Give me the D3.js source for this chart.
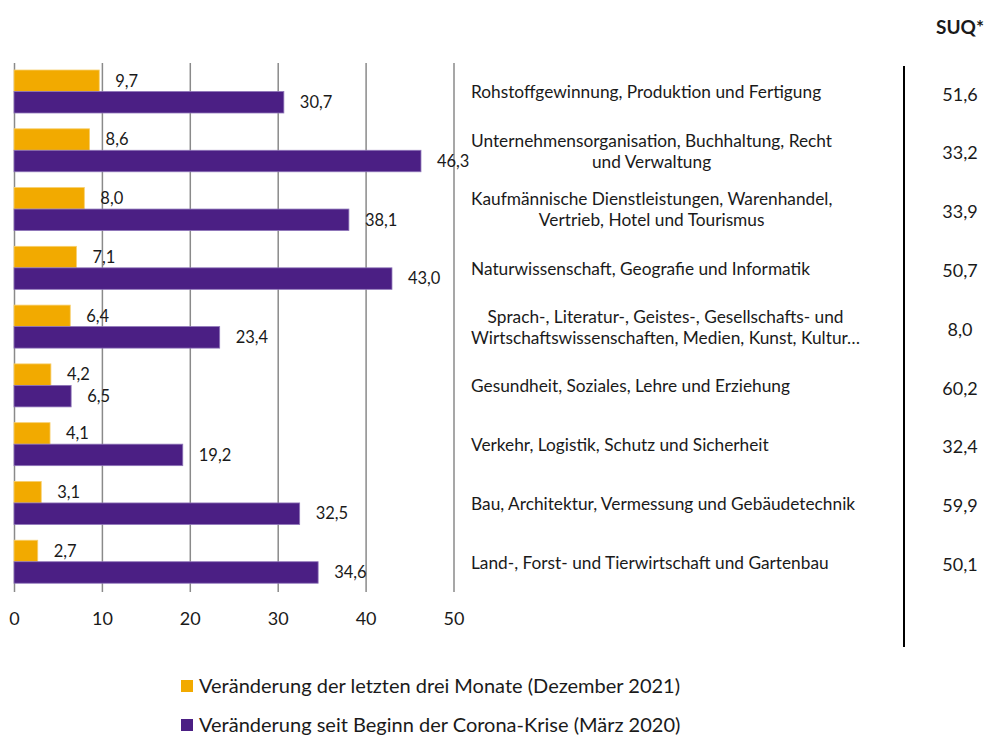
<!DOCTYPE html>
<html>
<head>
<meta charset="utf-8">
<script src="https://cdn.jsdelivr.net/npm/d3@7"></script>
<style>
  body { margin: 0; background: #fff; }
  svg { font-family: Lato, "Open Sans", sans-serif; }
</style>
</head>
<body>
<div id="chart"></div>
<script>
var categories = [
  'Rohstoffgewinnung, Produktion und Fertigung',
  'Unternehmensorganisation, Buchhaltung, Recht\nund Verwaltung',
  'Kaufmännische Dienstleistungen, Warenhandel,\nVertrieb, Hotel und Tourismus',
  'Naturwissenschaft, Geografie und Informatik',
  'Sprach-, Literatur-, Geistes-, Gesellschafts- und\nWirtschaftswissenschaften, Medien, Kunst, Kultur…',
  'Gesundheit, Soziales, Lehre und Erziehung',
  'Verkehr, Logistik, Schutz und Sicherheit',
  'Bau, Architektur, Vermessung und Gebäudetechnik',
  'Land-, Forst- und Tierwirtschaft und Gartenbau'
];
var lastThreeMonths = [9.7, 8.6, 8.0, 7.1, 6.4, 4.2, 4.1, 3.1, 2.7];
var sinceCorona = [30.7, 46.3, 38.1, 43.0, 23.4, 6.5, 19.2, 32.5, 34.6];
var suq = [51.6, 33.2, 33.9, 50.7, 8.0, 60.2, 32.4, 59.9, 50.1];
var seriesNames = [
  'Veränderung der letzten drei Monate (Dezember 2021)',
  'Veränderung seit Beginn der Corona-Krise (März 2020)'
];
var seriesColors = ['#F2AA00', '#4B1F84'];
var xTicks = [0, 10, 20, 30, 40, 50];

var chart_width = 987;
var chart_height = 738;
var fmt = function (v) { return d3.format('.1f')(v).replace('.', ','); };

var svg = d3.select('#chart')
  .append('svg')
  .attr('width', chart_width)
  .attr('height', chart_height);

// Scales
var xScale = d3.scaleLinear()
  .domain([0, 50])
  .range([14, 453.5]);

var yScale = d3.scaleBand()
  .domain(d3.range(categories.length))
  .range([63, 592]);

var innerScale = d3.scaleBand()
  .domain([0, 1])
  .range([7, 50]);

// Gridlines + tick labels
var axis = svg.append('g')
  .attr('transform', 'translate(0,592)')
  .call(d3.axisBottom(xScale)
    .tickValues(xTicks)
    .tickSize(-(592 - 63))
    .tickPadding(20)
    .tickFormat(d3.format('d')));
axis.select('.domain').remove();
axis.selectAll('.tick line')
  .attr('stroke', '#8a8a8a')
  .attr('stroke-width', 1.5);
axis.selectAll('.tick text')
  .attr('font-size', 18)
  .attr('font-family', 'Lato, sans-serif')
  .attr('fill', '#1a1a1a');

// Bars
var rows = categories.map(function (c, i) {
  return { i: i, values: [lastThreeMonths[i], sinceCorona[i]] };
});

var groups = svg.selectAll('g.row')
  .data(rows)
  .enter()
  .append('g')
  .attr('class', 'row')
  .attr('transform', function (d) { return 'translate(0,' + yScale(d.i) + ')'; });

groups.selectAll('rect')
  .data(function (d) { return d.values; })
  .enter()
  .append('rect')
  .attr('x', xScale(0))
  .attr('y', function (d, j) { return innerScale(j); })
  .attr('width', function (d) { return xScale(d) - xScale(0); })
  .attr('height', innerScale.bandwidth())
  .attr('fill', function (d, j) { return seriesColors[j]; })
  .attr('stroke', function (d, j) { return j ? '#8e75b8' : '#f7cf6e'; })
  .attr('stroke-width', 0.8);

groups.selectAll('text.val')
  .data(function (d) { return d.values; })
  .enter()
  .append('text')
  .attr('class', 'val')
  .text(function (d) { return fmt(d); })
  .attr('x', function (d) { return xScale(d) + 16; })
  .attr('y', function (d, j) { return innerScale(j) + innerScale.bandwidth() / 2; })
  .attr('dy', '0.35em')
  .attr('font-size', 16.5)
  .attr('fill', '#1a1a1a');

// Category labels (block left-aligned, lines centred within block)
var labels = svg.selectAll('g.cat')
  .data(categories)
  .enter()
  .append('g')
  .attr('class', 'cat');

labels.each(function (c, i) {
  var g = d3.select(this);
  var lines = c.split('\n');
  var lineH = 21;
  var cy = yScale(i) + yScale.bandwidth() / 2;
  lines.forEach(function (ln, k) {
    g.append('text')
      .text(ln)
      .attr('x', 0)
      .attr('y', cy + (k - (lines.length - 1) / 2) * lineH)
      .attr('dy', '0.35em')
      .attr('text-anchor', 'middle')
      .attr('font-size', 17.3)
      .attr('fill', '#1a1a1a');
  });
  var w = d3.max(g.selectAll('text').nodes(), function (n) { return n.getComputedTextLength(); });
  g.attr('transform', 'translate(' + (471 + w / 2) + ',0)');
});

// Separator + SUQ column
svg.append('line')
  .attr('x1', 904).attr('x2', 904)
  .attr('y1', 66).attr('y2', 647)
  .attr('stroke', '#000')
  .attr('stroke-width', 2);

svg.append('text')
  .text('SUQ*')
  .attr('x', 960)
  .attr('y', 27)
  .attr('dy', '0.35em')
  .attr('text-anchor', 'middle')
  .attr('font-weight', 'bold')
  .attr('font-size', 19)
  .attr('fill', '#1a1a1a');

svg.selectAll('text.suq')
  .data(suq)
  .enter()
  .append('text')
  .attr('class', 'suq')
  .text(function (d) { return fmt(d); })
  .attr('x', 960)
  .attr('y', function (d, i) { return yScale(i) + yScale.bandwidth() / 2 + 2; })
  .attr('dy', '0.35em')
  .attr('text-anchor', 'middle')
  .attr('font-size', 18)
  .attr('fill', '#1a1a1a');

// Legend
var legend = svg.selectAll('g.legend')
  .data(seriesNames)
  .enter()
  .append('g')
  .attr('class', 'legend')
  .attr('transform', function (d, i) { return 'translate(181,' + (686 + i * 39) + ')'; });

legend.append('rect')
  .attr('x', 0)
  .attr('y', -6)
  .attr('width', 12)
  .attr('height', 12)
  .attr('fill', function (d, i) { return seriesColors[i]; });

legend.append('text')
  .text(function (d) { return d; })
  .attr('x', 18)
  .attr('y', 0)
  .attr('dy', '0.35em')
  .attr('font-size', 20)
  .attr('fill', '#1a1a1a');
</script>
</body>
</html>
